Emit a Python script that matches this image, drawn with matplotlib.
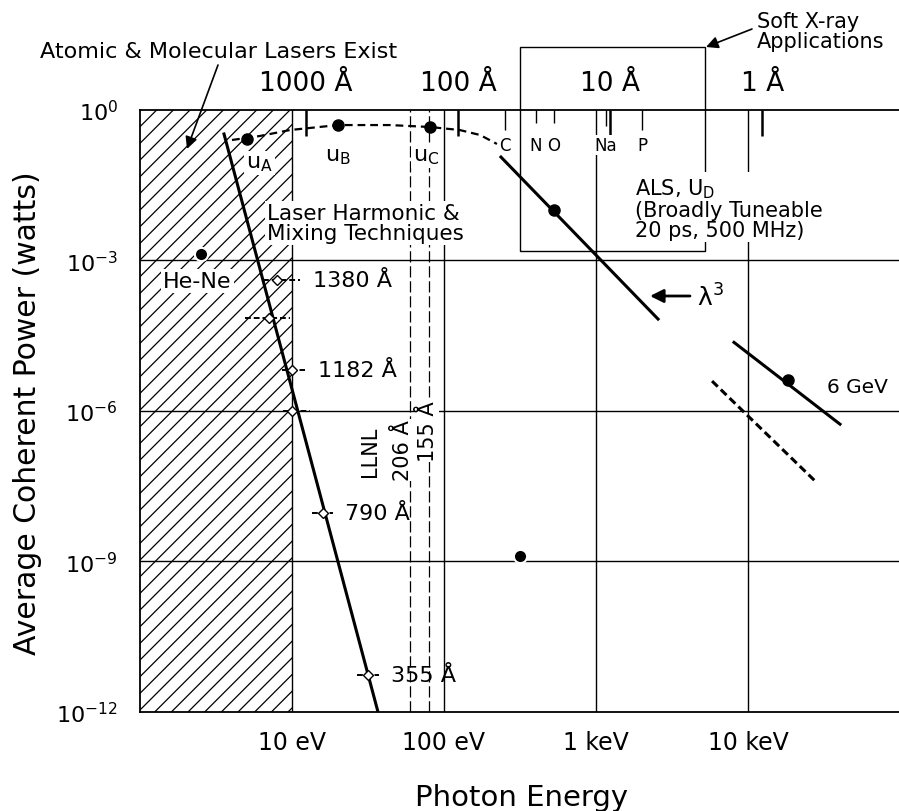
import matplotlib
matplotlib.use('Agg')
import matplotlib.pyplot as plt
from matplotlib.patches import Rectangle
from matplotlib.ticker import NullLocator

W, H = 899, 812
HC = 12398.4  # eV * Angstrom

# undulator estimate (dashed) and the three marked undulators
und_energy = [4.03, 6.16, 9.7, 20.1, 44.1, 80.9, 127, 173, 223]
und_power = [0.247, 0.297, 0.39, 0.49, 0.49, 0.448, 0.39, 0.31, 0.206]
und_pt_energy = [5.06, 20.1, 80.9]
und_pt_power = [0.258, 0.49, 0.448]

# ALS lambda^3 line and point
als_energy = [237, 2560]
als_power = [0.113, 6.7e-5]
als_pt_energy = [529]
als_pt_power = [0.01]

# 6 GeV source
gev_energy = [8090, 40300]
gev_power = [2.3e-5, 5.4e-7]
gev_pt_energy = [18300]
gev_pt_power = [4.1e-6]
gev_dash_energy = [5800, 27600]
gev_dash_power = [3.9e-6, 4e-8]

# single points
other_energy = [316, 2.52]
other_power = [1.3e-9, 1.3e-3]

# laser harmonic line and measured points
harm_energy = [3.57, 36.8]
harm_power = [0.325, 1e-12]
diam_energy = [7.96, 7.06, 10.0, 10.0, 16.0, 31.6]
diam_power = [4.0e-4, 7.0e-5, 6.5e-6, 1.0e-6, 9.2e-9, 5.5e-12]
diam_lo = [6.45, 4.91, 8.6, 8.76, 13.5, 26.8]
diam_hi = [11.3, 9.7, 12.2, 13.1, 18.6, 37.3]
diam_labels = ['1380 Å', '', '1182 Å', '', '790 Å', '355 Å']

# top axis wavelengths, absorption edges, LLNL lines, soft x-ray box
top_wavelengths = [1000, 100, 10, 1]
edge_names = ['C', 'N', 'O', 'Na', 'P']
edge_energy = [252, 403, 529, 1164, 2009]
llnl_wavelengths = [206, 155]
xray_box_energy = [316, 5200]
xray_box_power = [1.5e-3, 17.6]

x_ticks = [10, 100, 1000, 10000]
x_ticklabels = ['10 eV', '100 eV', '1 keV', '10 keV']
y_ticks = [1e-12, 1e-9, 1e-6, 1e-3, 1]
y_ticklabels = [r'$10^{-12}$', r'$10^{-9}$', r'$10^{-6}$', r'$10^{-3}$', r'$10^{0}$']


def fpos(x, y):
    return x / W, 1 - y / H


fig = plt.figure(figsize=(W / 100, H / 100), dpi=100)
ax = fig.add_axes([140 / W, 1 - 713 / H, 760 / W, 602.5 / H])
ax.set_xscale('log')
ax.set_yscale('log')
ax.set_xlim(1, 1e5)
ax.set_ylim(1e-12, 1)

ax.set_xticks(x_ticks)
ax.set_xticklabels(x_ticklabels)
ax.set_yticks(y_ticks)
ax.set_yticklabels(y_ticklabels)
ax.xaxis.set_minor_locator(NullLocator())
ax.yaxis.set_minor_locator(NullLocator())
ax.tick_params(axis='x', length=0, labelsize=17, pad=13)
ax.tick_params(axis='y', length=0, labelsize=16, pad=16)
ax.spines['right'].set_visible(False)
for s in ['left', 'top', 'bottom']:
    ax.spines[s].set_linewidth(1.3)

# hatched region of existing lasers
plt.rcParams['hatch.linewidth'] = 0.9
ax.axvspan(1, 10, facecolor='none', edgecolor='k', hatch='//', linewidth=0, zorder=0.5)

# grid
for e in x_ticks:
    ax.axvline(e, color='k', lw=1.0, zorder=1)
for p in y_ticks[1:-1]:
    ax.axhline(p, color='k', lw=1.0, zorder=1)

for lam in llnl_wavelengths:
    ax.axvline(HC / lam, color='k', lw=0.9, ls=(0, (9, 3)), zorder=1)

xt = ax.get_xaxis_transform()
for lam in top_wavelengths:
    ax.vlines(HC / lam, 1 - 26 / 602.5, 1, transform=xt, color='k', lw=1.8, clip_on=False)
    ax.text(HC / lam, 1.044, '%d Å' % lam, transform=xt, ha='center', va='center',
            fontsize=19, clip_on=False)

for name, e, ln in zip(edge_names, edge_energy, [20, 13, 13, 16, 20]):
    ax.vlines(e, 1 - ln / 602.5, 1, transform=xt, color='k', lw=1.0)
    ax.text(e, 0.941, name, transform=xt, ha='center', va='center', fontsize=12,
            bbox=dict(fc='white', ec='none', pad=0.5))

ax.add_patch(Rectangle((xray_box_energy[0], xray_box_power[0]),
                       xray_box_energy[1] - xray_box_energy[0],
                       xray_box_power[1] - xray_box_power[0],
                       fill=False, ec='k', lw=1.0, clip_on=False, zorder=2))

# data
ax.plot(und_energy, und_power, color='k', lw=1.6, ls=(0, (3.5, 2.2)), zorder=3)
ax.plot(und_pt_energy, und_pt_power, 'o', color='k', ms=8, zorder=4)
ax.plot(als_energy, als_power, color='k', lw=2.2, zorder=3)
ax.plot(als_pt_energy, als_pt_power, 'o', color='k', ms=8, zorder=4)
ax.plot(gev_energy, gev_power, color='k', lw=2.2, zorder=3)
ax.plot(gev_pt_energy, gev_pt_power, 'o', color='k', ms=8, zorder=4)
ax.plot(gev_dash_energy, gev_dash_power, color='k', lw=2.2, ls=(0, (2.6, 1.4)), zorder=3)
ax.plot(other_energy, other_power, 'o', color='k', ms=9.5, zorder=4,
        markeredgecolor='white', markeredgewidth=1.5)

ax.plot(harm_energy, harm_power, color='k', lw=2.2, zorder=3)
for e, p, lo, hi, lab in zip(diam_energy, diam_power, diam_lo, diam_hi, diam_labels):
    ax.plot([lo, hi], [p, p], color='k', lw=1.4, ls=(0, (3, 1.5)), zorder=4)
    ax.plot([e], [p], 'D', ms=5, mfc='white', mec='k', mew=1.0, zorder=5)
    if lab:
        ax.annotate(lab, xy=(hi, p), xytext=(9, 0), textcoords='offset points',
                    ha='left', va='center', fontsize=16)

# annotations
fig.text(*fpos(219, 52), 'Atomic & Molecular Lasers Exist', ha='center', va='center',
         fontsize=16)
ax.annotate('', xy=fpos(187, 150), xytext=fpos(218, 66), xycoords='figure fraction',
            textcoords='figure fraction', annotation_clip=False,
            arrowprops=dict(arrowstyle='-|>', color='k', lw=1.2, mutation_scale=18,
                            shrinkA=0, shrinkB=0))
fig.text(*fpos(757, 32), 'Soft X-ray\nApplications', ha='left', va='center',
         fontsize=15, linespacing=0.95)
ax.annotate('', xy=fpos(706, 48), xytext=fpos(752, 30), xycoords='figure fraction',
            textcoords='figure fraction', annotation_clip=False,
            arrowprops=dict(arrowstyle='-|>', color='k', lw=1.2, mutation_scale=18,
                            shrinkA=0, shrinkB=0))

white = dict(fc='white', ec='none', pad=1.5)
fig.text(*fpos(635, 177), 'ALS, U$_\\mathrm{D}$\n(Broadly Tuneable\n20 ps, 500 MHz)',
         ha='left', va='top', fontsize=15, linespacing=1.0, bbox=white)
fig.text(*fpos(267, 224), 'Laser Harmonic &\nMixing Techniques', ha='left',
         va='center', fontsize=15.5, linespacing=1.0, bbox=white)
fig.text(*fpos(163, 282), 'He-Ne', ha='left', va='center', fontsize=16, bbox=white)
fig.text(*fpos(246, 164), 'u$_\\mathrm{A}$', ha='left', va='center', fontsize=16, bbox=white)
fig.text(*fpos(325, 157), 'u$_\\mathrm{B}$', ha='left', va='center', fontsize=16)
fig.text(*fpos(413, 157), 'u$_\\mathrm{C}$', ha='left', va='center', fontsize=16, bbox=white)

fig.text(*fpos(697, 298), 'λ$^3$', ha='left', va='center', fontsize=18)
ax.annotate('', xy=fpos(650, 297), xytext=fpos(690, 297), xycoords='figure fraction',
            textcoords='figure fraction', annotation_clip=False,
            arrowprops=dict(arrowstyle='-|>', color='k', lw=2.0, mutation_scale=20,
                            shrinkA=0, shrinkB=0))
fig.text(*fpos(827, 388), '6 GeV', ha='left', va='center', fontsize=14.5)

fig.text(*fpos(370, 452), 'LLNL', rotation=90, ha='center', va='center', fontsize=15)
fig.text(*fpos(403, 451), '206 Å', rotation=90, ha='center', va='center', fontsize=15,
         bbox=dict(fc='white', ec='none', pad=0.5))
fig.text(*fpos(428, 432), '155 Å', rotation=90, ha='center', va='center', fontsize=15,
         bbox=dict(fc='white', ec='none', pad=0.5))

fig.text(*fpos(522, 798), 'Photon Energy', ha='center', va='center', fontsize=21)
fig.text(*fpos(28, 413), 'Average Coherent Power (watts)', rotation=90, ha='center',
         va='center', fontsize=21.5)

fig.savefig('out.png', dpi=100)
